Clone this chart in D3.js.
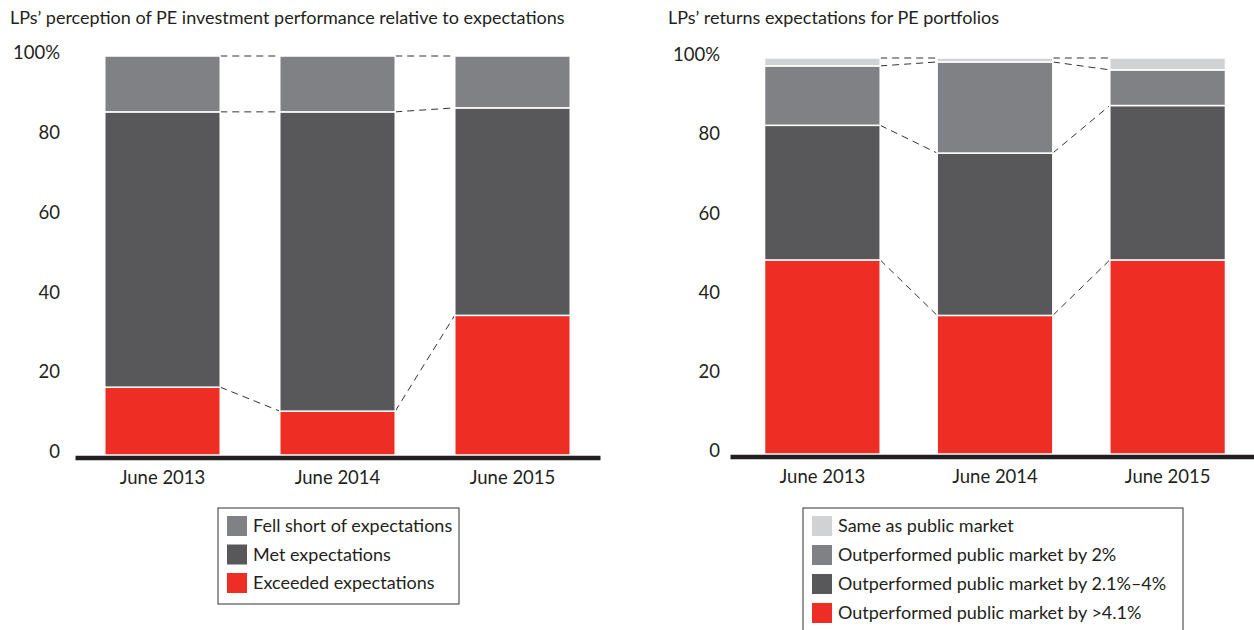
<!DOCTYPE html>
<html><head><meta charset="utf-8">
<script src="https://cdn.jsdelivr.net/npm/d3@7"></script>
<style>
body{margin:0;background:#fff;}
svg text{font-family:"Lato","Open Sans",sans-serif;fill:#231f20;}
</style></head>
<body><svg id="c" width="1254" height="630"></svg>
<script>
const categories = ["June 2013","June 2014","June 2015"];
const tickValues = [0,20,40,60,80,100];
// Left chart
const leftTitle = "LPs\u2019 perception of PE investment performance relative to expectations";
const leftSeries = ["Exceeded expectations","Met expectations","Fell short of expectations"];
const leftExceeded = [17,11,35];
const leftMet = [69,75,52];
const leftFell = [14,14,13];
// Right chart
const rightTitle = "LPs\u2019 returns expectations for PE portfolios";
const rightSeries = ["Outperformed public market by >4.1%","Outperformed public market by 2.1%\u20134%","Outperformed public market by 2%","Same as public market"];
const rightOver41 = [49,35,49];
const right21to4 = [34,41,39];
const right2 = [15,23,9];
const rightSame = [2,1,3];

const RED="#ee2e24", DARK="#58585a", MID="#808184", LIGHT="#d1d2d4";
const svg = d3.select("#c");

function drawChart(cfg){
  const g = svg.append("g");
  const x = d3.scaleBand().domain(categories).range(cfg.xr).paddingInner(cfg.pi).paddingOuter(cfg.po);
  const y = d3.scaleLinear().domain([0,100]).range(cfg.yr);
  const keys = cfg.series.map((s,i)=>i);
  const rows = categories.map((c,ci)=>{const o={cat:c}; cfg.values.forEach((arr,k)=>o[k]=arr[ci]); return o;});
  const stack = d3.stack().keys(keys)(rows);

  g.append("text").attr("x",cfg.titleX).attr("y",24).attr("font-size",18).text(cfg.title);

  // connectors
  stack.forEach((layer,k)=>{
    if(!cfg.connect[k]) return;
    for(let i=0;i<categories.length-1;i++){
      g.append("line")
        .attr("x1",x(categories[i])+x.bandwidth()).attr("y1",y(layer[i][1]))
        .attr("x2",x(categories[i+1])).attr("y2",y(layer[i+1][1]))
        .attr("stroke","#333").attr("stroke-width",1).attr("stroke-dasharray","7,5");
    }
  });

  stack.forEach((layer,k)=>{
    g.selectAll(null).data(layer).enter().append("rect")
      .attr("x",d=>x(d.data.cat)).attr("width",x.bandwidth())
      .attr("y",d=>y(d[1])).attr("height",d=>y(d[0])-y(d[1]))
      .attr("fill",cfg.colors[k]).attr("stroke","#fff").attr("stroke-width",1.5);
  });

  const ya = g.append("g").attr("transform",`translate(${cfg.xr[0]},0)`)
    .call(d3.axisLeft(y).tickValues(tickValues).tickSize(0).tickPadding(cfg.ypad).tickFormat(d=>d===100?"100%":d));
  ya.select(".domain").remove();
  ya.selectAll("text").attr("font-size",18.5).attr("font-family","Lato").attr("fill","#231f20").attr("dy","0.15em");

  const xa = g.append("g").attr("transform",`translate(0,${cfg.yr[0]+2.5})`)
    .call(d3.axisBottom(x).tickSize(0).tickPadding(13));
  xa.select(".domain").attr("stroke","#231f20").attr("stroke-width",4.5);
  xa.selectAll("text").attr("font-size",18.5).attr("font-family","Lato").attr("fill","#231f20");

  // legend
  const lg = g.append("g");
  lg.append("rect").attr("x",cfg.leg.x).attr("y",cfg.leg.y).attr("width",cfg.leg.w).attr("height",cfg.leg.h)
    .attr("fill","none").attr("stroke","#333").attr("stroke-width",1);
  const order = keys.slice().reverse();
  order.forEach((k,i)=>{
    const yy = cfg.leg.y + 8 + i*cfg.leg.step;
    lg.append("rect").attr("x",cfg.leg.x+9).attr("y",yy).attr("width",20).attr("height",20).attr("fill",cfg.colors[k]);
    lg.append("text").attr("x",cfg.leg.x+35).attr("y",yy+16).attr("font-size",18).text(cfg.series[k]);
  });
}

drawChart({
  title:leftTitle, titleX:10, series:leftSeries,
  values:[leftExceeded,leftMet,leftFell], colors:[RED,DARK,MID], connect:[true,true,true],
  xr:[75,600], pi:0.34, po:0.17, yr:[455,56], ypad:15,
  leg:{x:218,y:508,w:241,h:96,step:28.5}
});
drawChart({
  title:rightTitle, titleX:668, series:rightSeries,
  values:[rightOver41,right21to4,right2,rightSame], colors:[RED,DARK,MID,LIGHT], connect:[true,true,true,true],
  xr:[730,1260], pi:0.33, po:0.2, yr:[454,58], ypad:10,
  leg:{x:803,y:508,w:380,h:130,step:29}
});
</script></body></html>
